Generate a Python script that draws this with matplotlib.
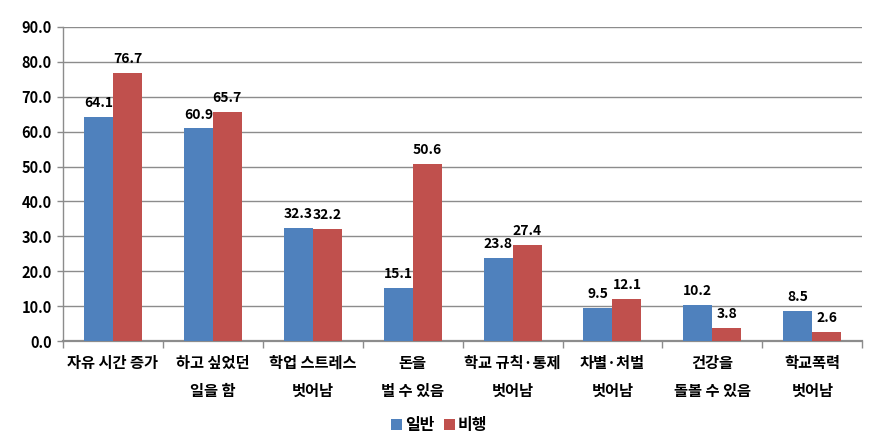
#!/usr/bin/env python3
"""학교 밖 청소년: 학업중단 후 좋아진 점 (일반/비행) 막대그래프."""

import matplotlib

matplotlib.use("Agg")
import matplotlib.pyplot as plt  # noqa: E402
import numpy as np  # noqa: E402

plt.rcParams["font.family"] = ["Noto Sans CJK KR", "DejaVu Sans"]

categories = [
    "자유 시간 증가",
    "하고 싶었던\n일을 함",
    "학업 스트레스\n벗어남",
    "돈을\n벌 수 있음",
    "학교 규칙·통제\n벗어남",
    "차별·처벌\n벗어남",
    "건강을\n돌볼 수 있음",
    "학교폭력\n벗어남",
]
general = [64.1, 60.9, 32.3, 15.1, 23.8, 9.5, 10.2, 8.5]
delinquent = [76.7, 65.7, 32.2, 50.6, 27.4, 12.1, 3.8, 2.6]
series_names = ["일반", "비행"]
yticks = np.arange(0, 91, 10)

BLUE = "#4F81BD"
RED = "#C0504D"
GRID = "#8C8C8C"

fig = plt.figure(figsize=(8.96, 4.43), dpi=100)
ax = fig.add_axes([0.0703, 0.2302, 0.892, 0.709])

x = np.arange(len(categories))
width = 0.29
b1 = ax.bar(x - width / 2, general, width, color=BLUE, label=series_names[0], zorder=3)
b2 = ax.bar(x + width / 2, delinquent, width, color=RED, label=series_names[1], zorder=3)

for bars in (b1, b2):
    for bar in bars:
        h = bar.get_height()
        ax.annotate(f"{h:.1f}", (bar.get_x() + bar.get_width() / 2, h),
                    xytext=(0, 5), textcoords="offset points",
                    ha="center", va="bottom", fontsize=10, fontweight="bold")

ax.set_xlim(-0.5, len(categories) - 0.5)
ax.set_ylim(0, 90)
ax.set_yticks(yticks)
ax.set_yticklabels([f"{v:.1f}" for v in yticks], fontsize=10.5, fontweight="bold")
ax.yaxis.grid(True, color=GRID, linewidth=1.0, zorder=0)
ax.set_axisbelow(True)

ax.set_xticks(x)
ax.set_xticklabels(categories, fontsize=11, fontweight="bold", linespacing=1.9)
ax.tick_params(axis="x", length=0, pad=10)
ax.set_xticks(np.arange(-0.5, len(categories)), minor=True)
ax.tick_params(axis="x", which="minor", length=5, color=GRID, width=1)
ax.tick_params(axis="y", length=4, color=GRID, width=1, pad=4)

for side in ("top", "right"):
    ax.spines[side].set_visible(False)
ax.spines["left"].set_color(GRID)
ax.spines["left"].set_linewidth(1.0)
ax.spines["bottom"].set_color(GRID)
ax.spines["bottom"].set_linewidth(1.6)

fig.legend(handles=[b1, b2], labels=series_names, loc="center",
           bbox_to_anchor=(0.49, 0.04), ncol=2, frameon=False,
           handlelength=0.7, handleheight=0.7, handletextpad=0.15,
           columnspacing=0.6, prop={"size": 11.5, "weight": "bold"})

fig.savefig("out.png", dpi=100)
